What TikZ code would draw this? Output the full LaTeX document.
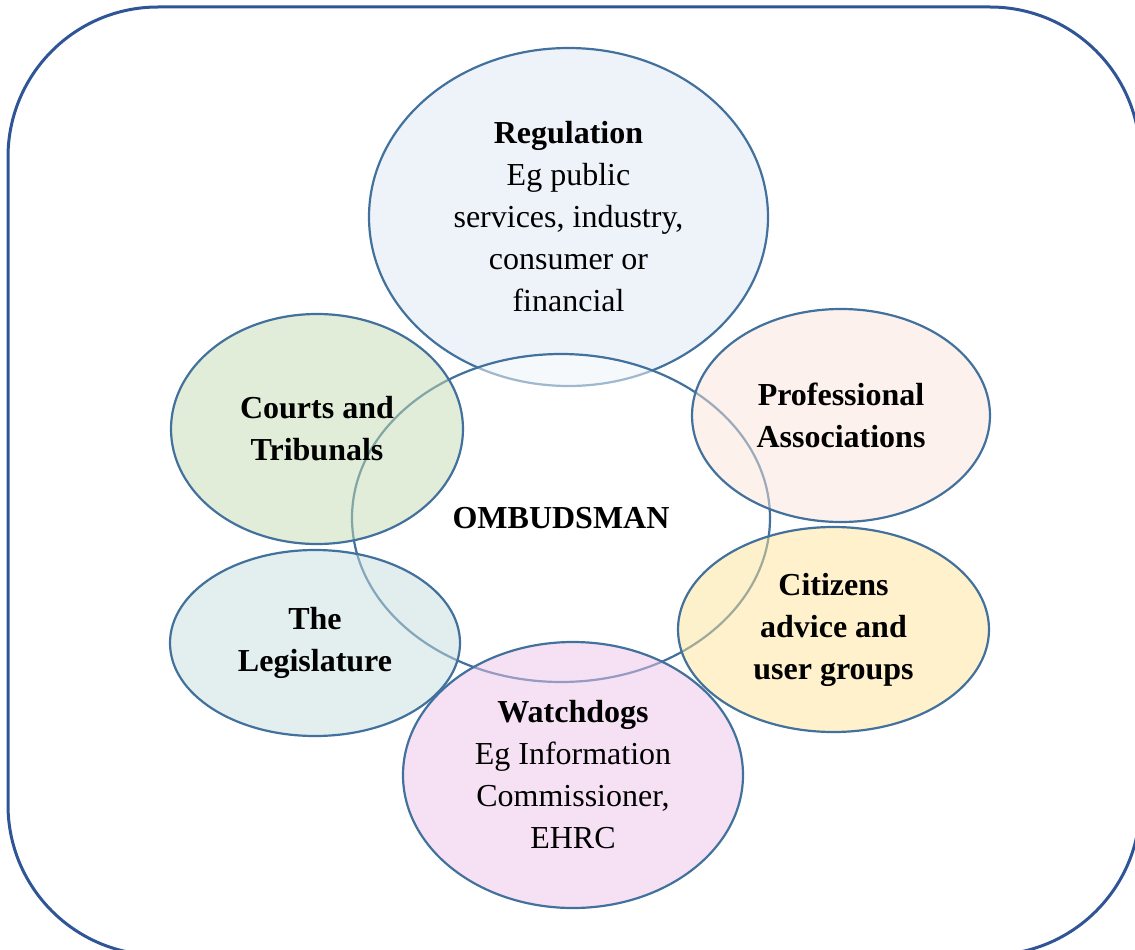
\documentclass[tikz,border=0pt]{standalone}
\usepackage{fontspec}
\setmainfont{Liberation Serif}
\usetikzlibrary{shapes.geometric}
\definecolor{edge}{HTML}{41719C}
\definecolor{outer}{HTML}{2F5597}
\definecolor{regfill}{RGB}{238,243,250}
\definecolor{courtfill}{RGB}{195,219,177}
\definecolor{proffill}{RGB}{249,227,217}
\definecolor{citfill}{RGB}{253,227,153}
\definecolor{legfill}{RGB}{199,221,221}
\definecolor{watchfill}{RGB}{237,195,233}
\begin{document}
\begin{tikzpicture}[x=1pt,y=-1pt,
  bubble/.style={ellipse, draw=edge, line width=2.2pt, inner sep=0pt, align=center,
    font=\fontsize{32}{42}\selectfont, text=black},
  seethru/.style={fill opacity=0.5, text opacity=1}]
\useasboundingbox (0,0) rectangle (1135,950);
\clip (0,0) rectangle (1135,950);
\draw[outer, line width=3pt, rounded corners=150pt] (8,7) rectangle (1140,955);
\node[bubble, fill=regfill, minimum width=399pt, minimum height=338pt] (reg) at (568.5,217)
  {\textbf{Regulation}\\Eg public\\services, industry,\\consumer or\\financial};
\node[bubble, fill=white, seethru, minimum width=418pt, minimum height=328pt] (omb) at (561,518)
  {\textbf{OMBUDSMAN}};
\node[bubble, fill=courtfill, seethru, minimum width=292pt, minimum height=230pt] (court) at (317,429)
  {\textbf{Courts and}\\\textbf{Tribunals}};
\node[bubble, fill=proffill, seethru, minimum width=298pt, minimum height=213pt] (prof) at (841,415.5)
  {\textbf{Professional}\\\textbf{Associations}};
\node[bubble, fill=legfill, seethru, minimum width=290pt, minimum height=186pt] (leg) at (315,643)
  {\textbf{The}\\\textbf{Legislature}};
\node[bubble, fill=citfill, seethru, minimum width=311pt, minimum height=205pt] (cit) at (833.5,629.5)
  {\textbf{Citizens}\\\textbf{advice and}\\\textbf{user groups}};
\node[bubble, fill=watchfill, seethru, minimum width=340pt, minimum height=266pt] (watch) at (573,775)
  {\textbf{Watchdogs}\\Eg Information\\Commissioner,\\EHRC};
\end{tikzpicture}
\end{document}
